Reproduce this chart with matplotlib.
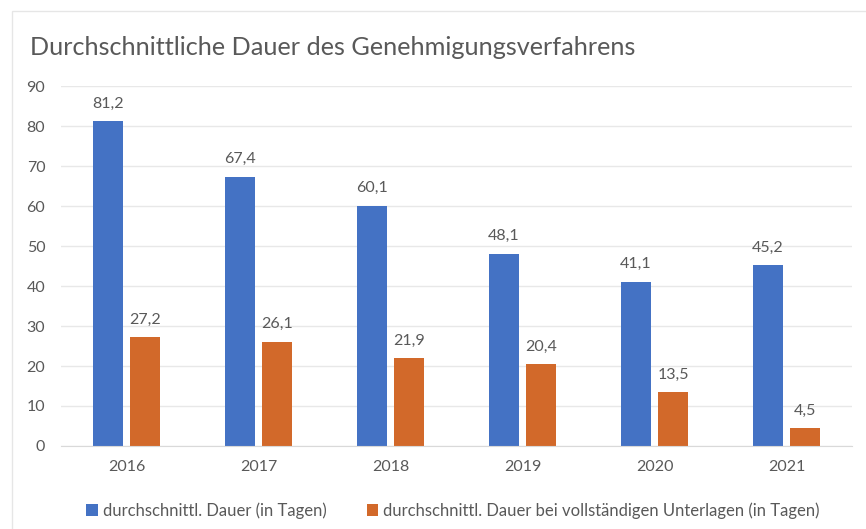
import matplotlib
matplotlib.use("Agg")
import matplotlib.pyplot as plt
import numpy as np
from matplotlib.patches import Rectangle

plt.rcParams['font.family'] = ['Lato', 'DejaVu Sans']

years = ['2016', '2017', '2018', '2019', '2020', '2021']
dauer = [81.2, 67.4, 60.1, 48.1, 41.1, 45.2]
dauer_vollst = [27.2, 26.1, 21.9, 20.4, 13.5, 4.5]
series_names = ['durchschnittl. Dauer (in Tagen)',
                'durchschnittl. Dauer bei vollständigen Unterlagen (in Tagen)']

blue = '#4472C4'
orange = '#D2692A'
text_col = '#595959'

fig = plt.figure(figsize=(8.66, 5.29), dpi=100)
ax = fig.add_axes([0.0699, 0.157, 0.9145, 0.68])

# light frame round the chart area
fig.patches.append(Rectangle((0.014, -0.01), 1.0, 0.99, transform=fig.transFigure,
                             fill=False, edgecolor='#E6E6E6', lw=1))

x = np.arange(len(years))
w = 0.228
b1 = ax.bar(x - 0.14, dauer, w, color=blue, label=series_names[0])
b2 = ax.bar(x + 0.14, dauer_vollst, w, color=orange, label=series_names[1])

for bars, vals in ((b1, dauer), (b2, dauer_vollst)):
    for r, v in zip(bars, vals):
        ax.text(r.get_x() + r.get_width() / 2, v + 2.6, f"{v:.1f}".replace('.', ','),
                ha='center', va='bottom', fontsize=11.5, color=text_col)

ax.set_xlim(-0.5, len(years) - 0.5)
ax.set_ylim(0, 90)
ax.set_yticks(range(0, 91, 10))
ax.set_xticks(x)
ax.set_xticklabels(years)
ax.tick_params(axis='both', length=0, labelsize=11.5, labelcolor=text_col)
ax.tick_params(axis='x', pad=10)
ax.tick_params(axis='y', pad=11)
ax.grid(axis='y', color='#E8E8E8', lw=1)
ax.set_axisbelow(True)
for s in ('top', 'right', 'left'):
    ax.spines[s].set_visible(False)
ax.spines['bottom'].set_color('#D9D9D9')

fig.text(0.035, 0.91, 'Durchschnittliche Dauer des Genehmigungsverfahrens',
         fontsize=18.2, color=text_col, va='center')

fig.legend(handles=[b1, b2], loc='center', bbox_to_anchor=(0.523, 0.035), ncol=2,
           frameon=False, fontsize=12, handlelength=0.7, handleheight=0.7,
           handletextpad=0.3, columnspacing=2.4, labelcolor=text_col)

fig.savefig('out.png', dpi=100)
